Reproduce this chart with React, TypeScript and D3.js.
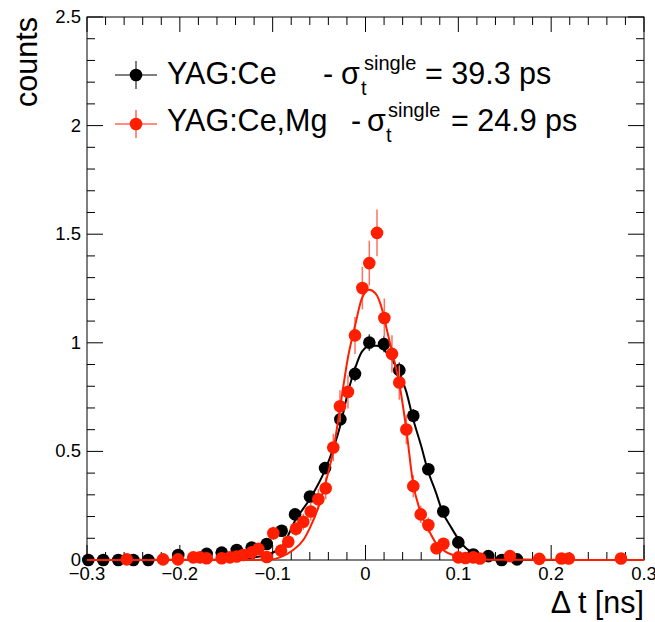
import React from "react";
import * as d3 from "d3";

// ---------- data ----------
const blackX = [-0.2986, -0.2825, -0.2663, -0.2501, -0.234, -0.2017, -0.1711, -0.1549, -0.1387, -0.1226, -0.1064, -0.0903, -0.0759, -0.0598, -0.0436, -0.0271, -0.0113, 0.0041, 0.0199, 0.0364, 0.0515, 0.0677, 0.0838, 0.1, 0.1161, 0.1323, 0.1467, 0.1632];
const blackY = [0.0, 0.0, 0.0, 0.0, 0.0, 0.023, 0.028, 0.034, 0.046, 0.057, 0.074, 0.135, 0.21, 0.292, 0.423, 0.648, 0.857, 1.001, 0.994, 0.874, 0.664, 0.418, 0.223, 0.081, 0.025, 0.018, 0.0, 0.003];
const blackErr = [0, 0, 0, 0, 0, 0.006, 0.006, 0.007, 0.008, 0.009, 0.01, 0.014, 0.017, 0.02, 0.025, 0.031, 0.035, 0.038, 0.038, 0.036, 0.031, 0.025, 0.018, 0.011, 0.006, 0.005, 0, 0.002];

const redX = [-0.2572, -0.2181, -0.202, -0.1855, -0.1783, -0.1711, -0.1549, -0.146, -0.1387, -0.1316, -0.1226, -0.1155, -0.1064, -0.0993, -0.091, -0.0832, -0.0749, -0.067, -0.059, -0.0508, -0.0429, -0.0347, -0.0275, -0.0189, -0.0113, -0.0034, 0.0041, 0.0124, 0.0203, 0.0285, 0.0364, 0.044, 0.0515, 0.0595, 0.0677, 0.0765, 0.084, 0.1, 0.1077, 0.1161, 0.1233, 0.1556, 0.1872, 0.2111, 0.219, 0.2752];
const redY = [0.003, 0.003, 0.003, 0.012, 0.012, 0.008, 0.008, 0.012, 0.016, 0.023, 0.035, 0.051, 0.014, 0.123, 0.043, 0.084, 0.144, 0.176, 0.223, 0.28, 0.33, 0.518, 0.708, 0.774, 1.034, 1.252, 1.367, 1.506, 1.114, 0.949, 0.817, 0.601, 0.34, 0.21, 0.161, 0.054, 0.075, 0.012, 0.009, 0.012, 0.007, 0.018, 0.005, 0.007, 0.007, 0.007];
const redErr = [0.005, 0.005, 0.005, 0.01, 0.01, 0.008, 0.008, 0.01, 0.011, 0.013, 0.016, 0.02, 0.01, 0.031, 0.018, 0.025, 0.033, 0.037, 0.042, 0.047, 0.05, 0.063, 0.074, 0.077, 0.085, 0.098, 0.103, 0.108, 0.09, 0.086, 0.079, 0.068, 0.051, 0.04, 0.035, 0.02, 0.024, 0.01, 0.008, 0.01, 0.007, 0.012, 0.006, 0.007, 0.007, 0.007];

const blackFitX = [-0.3, -0.178, -0.146, -0.121, -0.106, -0.09, -0.076, -0.06, -0.044, -0.027, -0.019, -0.011, -0.004, 0.005, 0.012, 0.02, 0.027, 0.036, 0.044, 0.051, 0.06, 0.067, 0.076, 0.083, 0.092, 0.1, 0.108, 0.116, 0.124, 0.134, 0.15, 0.3];
const blackFitY = [0, 0.001, 0.005, 0.012, 0.025, 0.061, 0.18, 0.281, 0.41, 0.622, 0.77, 0.885, 0.958, 0.986, 0.986, 0.968, 0.93, 0.866, 0.774, 0.654, 0.525, 0.415, 0.309, 0.221, 0.152, 0.097, 0.055, 0.032, 0.014, 0.004, 0.001, 0];

const redFitX = [-0.3, -0.12, -0.103, -0.092, -0.078, -0.067, -0.06, -0.051, -0.044, -0.035, -0.026, -0.019, -0.011, -0.004, 0.004, 0.011, 0.018, 0.023, 0.029, 0.036, 0.044, 0.051, 0.059, 0.068, 0.076, 0.088, 0.102, 0.12, 0.15, 0.3];
const redFitY = [0, 0.0005, 0.002, 0.012, 0.046, 0.092, 0.147, 0.24, 0.341, 0.498, 0.74, 0.93, 1.083, 1.203, 1.244, 1.226, 1.152, 1.06, 0.952, 0.822, 0.6, 0.361, 0.223, 0.138, 0.077, 0.034, 0.015, 0.004, 0.001, 0];

const xDomain = [-0.3, 0.3];
const yDomain = [0, 2.5];
const xTitle = "\u0394 t [ns]";
const yTitle = "counts";
const legendNames = ["YAG:Ce", "YAG:Ce,Mg"];
const legendValues = ["= 39.3 ps", "= 24.9 ps"];

// ---------- layout ----------
const W = 655, H = 622;
const L = 87, R = 644, T = 17, B = 560;
const BLACK = "#000000";
const RED = "#ff1f00";
const FONT = "'Liberation Sans', Arial, Helvetica, sans-serif";

export default function App() {
  const x = d3.scaleLinear().domain(xDomain).range([L, R]);
  const y = d3.scaleLinear().domain(yDomain).range([B, T]);

  const xMajor = x.ticks(6);
  const xMinor = x.ticks(30);
  const yMajor = y.ticks(5);
  const yMinor = y.ticks(25);
  const isMajor = (v: number, arr: number[]) => arr.some((m) => Math.abs(m - v) < 1e-9);
  const fmt = d3.format("");

  const line = d3
    .line<[number, number]>()
    .x((d) => x(d[0]))
    .y((d) => y(d[1]))
    .curve(d3.curveMonotoneX);

  const blackFit = line(blackFitX.map((v, i) => [v, blackFitY[i]] as [number, number])) || "";
  const redFit = line(redFitX.map((v, i) => [v, redFitY[i]] as [number, number])) || "";

  const points = (xs: number[], ys: number[], es: number[], color: string, errColor: string) =>
    xs.map((v, i) => (
      <g key={i}>
        {es[i] > 0 && (
          <line x1={x(v)} x2={x(v)} y1={y(ys[i] - es[i])} y2={y(ys[i] + es[i])} stroke={errColor} strokeWidth={1.5} />
        )}
        <circle cx={x(v)} cy={y(ys[i])} r={6.3} fill={color} />
      </g>
    ));

  const legendRows = [
    { color: BLACK, cy: 75, base: 84, name: legendNames[0], dash: 323, sigma: 341, sub: 361, sup: 364, eq: 425, val: legendValues[0] },
    { color: RED, cy: 124, base: 131, name: legendNames[1], dash: 351, sigma: 367, sub: 386, sup: 388, eq: 451, val: legendValues[1] },
  ];

  return (
    <svg width={W} height={H} style={{ position: "absolute", left: 0, top: 0, background: "#fff" }} fontFamily={FONT}>
      <rect x={0} y={0} width={W} height={H} fill="#fff" />
      {/* frame */}
      <rect x={L} y={T} width={R - L} height={B - T} fill="none" stroke="#000" strokeWidth={1} />
      {/* x ticks bottom & top */}
      {xMinor.map((v, i) => {
        const len = isMajor(v, xMajor) ? 15 : 8;
        return (
          <g key={"xt" + i} stroke="#000" strokeWidth={1}>
            <line x1={x(v)} x2={x(v)} y1={B} y2={B - len} />
            <line x1={x(v)} x2={x(v)} y1={T} y2={T + len} />
          </g>
        );
      })}
      {/* y ticks left & right */}
      {yMinor.map((v, i) => {
        const len = isMajor(v, yMajor) ? 16 : 8;
        return (
          <g key={"yt" + i} stroke="#000" strokeWidth={1}>
            <line x1={L} x2={L + len} y1={y(v)} y2={y(v)} />
            <line x1={R} x2={R - len} y1={y(v)} y2={y(v)} />
          </g>
        );
      })}
      {/* tick labels */}
      {xMajor.map((v, i) => (
        <text key={"xl" + i} x={x(v)} y={580} fontSize={18.5} textAnchor="middle" fill="#000">
          {fmt(v)}
        </text>
      ))}
      {yMajor.map((v, i) => (
        <text key={"yl" + i} x={81} y={y(v) + 6} fontSize={18.5} textAnchor="end" fill="#000">
          {fmt(v)}
        </text>
      ))}
      {/* axis titles */}
      <text x={R} y={613} fontSize={30.5} textAnchor="end" fill="#000">
        {xTitle}
      </text>
      <text transform={`translate(37,${T}) rotate(-90)`} fontSize={30.5} textAnchor="end" fill="#000">
        {yTitle}
      </text>

      {/* data */}
      {points(blackX, blackY, blackErr, BLACK, "#444")}
      <path d={blackFit} fill="none" stroke={BLACK} strokeWidth={2} />
      {points(redX, redY, redErr, RED, "#ff7060")}
      <path d={redFit} fill="none" stroke={RED} strokeWidth={2} />

      {/* legend */}
      {legendRows.map((r, i) => (
        <g key={"lg" + i}>
          <line x1={115} x2={157} y1={r.cy} y2={r.cy} stroke={r.color} strokeWidth={1} />
          <line x1={136} x2={136} y1={r.cy - 14} y2={r.cy + 14} stroke={r.color} strokeWidth={1} />
          <circle cx={136} cy={r.cy} r={6.3} fill={r.color} />
          <text x={167} y={r.base} fontSize={30.5} fill="#000">{r.name}</text>
          <text x={r.dash} y={r.base} fontSize={30.5} fill="#000">-</text>
          <text x={r.sigma} y={r.base} fontSize={30.5} fill="#000">{"\u03C3"}</text>
          <text x={r.sub} y={r.base + 11} fontSize={20} fill="#000">t</text>
          <text x={r.sup} y={r.base - 14} fontSize={20} fill="#000">single</text>
          <text x={r.eq} y={r.base} fontSize={30.5} fill="#000">{r.val}</text>
        </g>
      ))}
    </svg>
  );
}
